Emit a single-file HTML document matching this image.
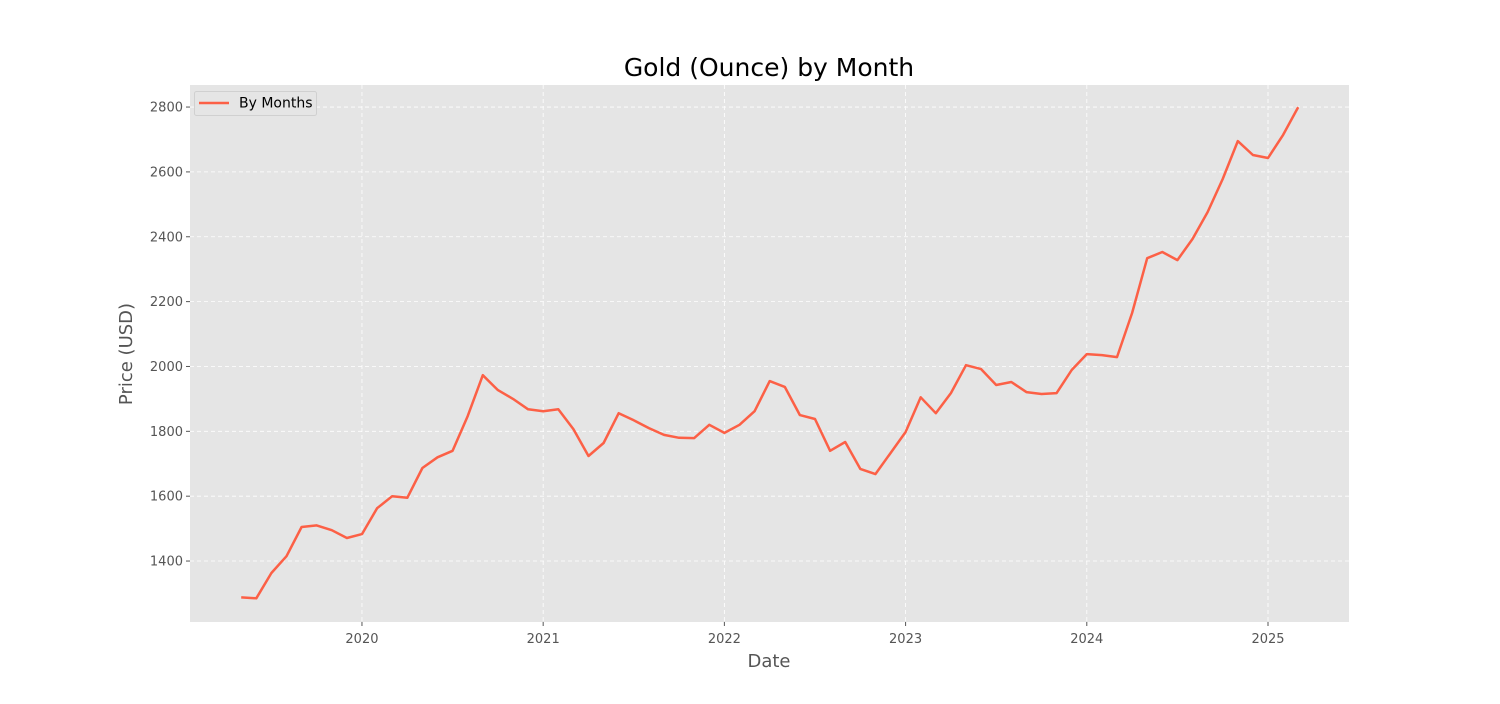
<!DOCTYPE html>
<html><head><meta charset="utf-8"><style>
body{margin:0;background:#fff;font-family:"DejaVu Sans","Liberation Sans",sans-serif;}
svg text{font-family:"DejaVu Sans","Liberation Sans",sans-serif;}
</style></head><body>
<svg id="chart" width="1500" height="700">
<rect x="0" y="0" width="1500" height="700" fill="#fff"/>
<rect x="190" y="85" width="1159" height="537" fill="#e5e5e5"/>
<g id="grid"></g><g id="xt"></g><g id="yt"></g>
<path id="line" fill="none" stroke="#fc6046" stroke-width="2.5" stroke-linejoin="round"/>
<text x="769" y="76" font-size="25" text-anchor="middle" fill="#000">Gold (Ounce) by Month</text>
<text x="769" y="667" font-size="18" text-anchor="middle" fill="#555">Date</text>
<text x="132" y="354" font-size="18" text-anchor="middle" fill="#555" transform="rotate(-90 132 354)">Price (USD)</text>
<g>
<rect x="194.5" y="91.5" width="122" height="24" rx="2" fill="#e5e5e5" stroke="#d0d0d0"/>
<line x1="199" y1="103" x2="229" y2="103" stroke="#fc6046" stroke-width="2.5"/>
<text x="239" y="107.5" font-size="14" fill="#000">By Months</text>
</g>
</svg>
<script>
const startYear = 2019, startMonth = 5;
const prices = [1288,1285,1363,1415,1505,1510,1495,1471,1483,1563,1600,1595,1687,1720,1740,1847,1973,1927,1900,1868,1862,1868,1807,1724,1764,1856,1834,1810,1789,1780,1779,1820,1795,1820,1862,1955,1937,1850,1838,1740,1767,1684,1668,1733,1798,1905,1856,1918,2004,1992,1943,1952,1921,1915,1918,1989,2038,2035,2029,2165,2334,2353,2328,2393,2476,2578,2695,2652,2643,2714,2800];
const xTicks = [2020,2021,2022,2023,2024,2025];
const yTicks = [1400,1600,1800,2000,2200,2400,2600,2800];
const X0=190,X1=1349,Y0=622,Y1=85;
const xMin=2019.051,xMax=2025.447,yMin=1212,yMax=2868;
const xs=v=>X0+(v-xMin)/(xMax-xMin)*(X1-X0);
const ys=v=>Y0-(v-yMin)/(yMax-yMin)*(Y0-Y1);
const NS="http://www.w3.org/2000/svg";
const grid=document.getElementById('grid'),xt=document.getElementById('xt'),yt=document.getElementById('yt');
function mk(tag,attrs,parent){const e=document.createElementNS(NS,tag);for(const k in attrs)e.setAttribute(k,attrs[k]);parent.appendChild(e);return e;}
xTicks.forEach(t=>{const x=xs(t);
 const g=mk('line',{x1:x,x2:x,y1:Y1,y2:Y0,stroke:'#fff','stroke-dasharray':'4,3','stroke-width':0.8},grid);
 
 
 mk('line',{x1:x,x2:x,y1:Y0,y2:Y0+4,stroke:'#555'},xt);
 const tx=mk('text',{x:x,y:Y0+21,'font-size':13,'text-anchor':'middle',fill:'#555'},xt);tx.textContent=t;
 
 
});
yTicks.forEach(t=>{const y=ys(t);
 const g=mk('line',{x1:X0,x2:X1,y1:y,y2:y,stroke:'#fff','stroke-dasharray':'4,3','stroke-width':0.8},grid);
 
 
 mk('line',{x1:X0-4,x2:X0,y1:y,y2:y,stroke:'#555'},yt);
 const tx=mk('text',{x:X0-7,y:y+4.5,'font-size':13,'text-anchor':'end',fill:'#555'},yt);tx.textContent=t;
 
 
});
let d='';
prices.forEach((p,i)=>{const t=startYear+(startMonth-1+i)/12;d+=(i?'L':'M')+xs(t).toFixed(1)+','+ys(p).toFixed(1);});
document.getElementById('line').setAttribute('d',d);
</script>
</body></html>
